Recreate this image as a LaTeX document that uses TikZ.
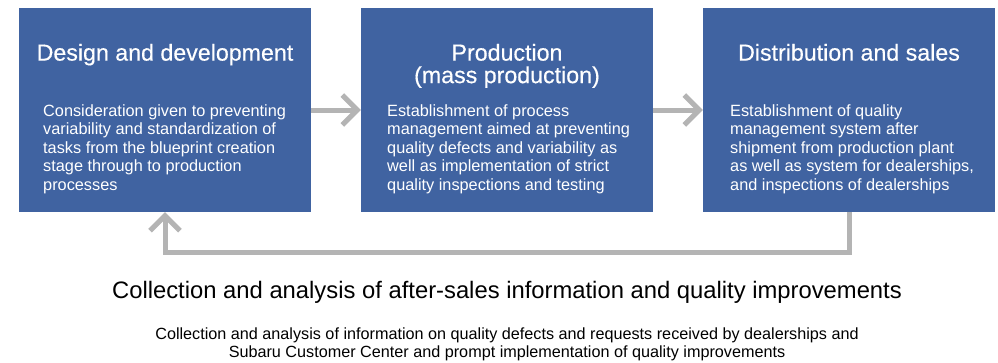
\documentclass[tikz,border=0pt]{standalone}
\usepackage{fontspec}
\setmainfont{Liberation Sans}
\newfontfamily\titlefont[FakeBold=0.4]{Liberation Sans}
\usetikzlibrary{arrows.meta}

\definecolor{stageblue}{RGB}{64,99,161}
\definecolor{loopgray}{RGB}{180,180,180}

\tikzset{
  stagebox/.style={fill=stageblue, draw=none, minimum width=292pt, minimum height=204pt, inner sep=0pt},
  stagetitle/.style={text=white, font=\titlefont\fontsize{23.2}{22.5}\selectfont, align=center, inner sep=0pt},
  stagetext/.style={text=white, font=\fontsize{16.3}{18.5}\selectfont, align=left, inner sep=0pt, anchor=north west},
  flow/.style={draw=loopgray, line width=5pt, -{Straight Barb[length=15pt,width=30pt]}},
}

\begin{document}
\begin{tikzpicture}[x=1pt,y=-1pt]
  \useasboundingbox (0,0) rectangle (998,362);

  % the three stages
  \node[stagebox] (design) at (165,110) {};
  \node[stagebox] (production) at (507,110) {};
  \node[stagebox] (distribution) at (849,110) {};

  % stage titles
  \node[stagetitle, anchor=north] (designtitle) at (165,43.6) {Design and development};
  \node[stagetitle, anchor=north] (productiontitle) at (507,43.6) {Production\\(mass production)};
  \node[stagetitle, anchor=north] (distributiontitle) at (849,43.6) {Distribution and sales};

  % stage descriptions
  \node[stagetext] (designtext) at (43,104.2) {Consideration given to preventing\\variability and standardization of\\tasks from the blueprint creation\\stage through to production\\processes};
  \node[stagetext] (productiontext) at (387,104.2) {Establishment of process\\management aimed at preventing\\quality defects and variability as\\well as implementation of strict\\quality inspections and testing};
  \node[stagetext] (distributiontext) at (730,104.2) {Establishment of quality\\management system after\\shipment from production plant\\as well as system for dealerships,\\and inspections of dealerships};

  % flow between stages
  \draw[flow] (design.east) -- (production.west);
  \draw[flow] (production.east) -- (distribution.west);

  % feedback loop
  \draw[flow] (distribution.south) -- ++(0,40) -| (design.south);

  % after-sales
  \node[anchor=base, font=\fontsize{23.8}{24}\selectfont, inner sep=0pt] (loophead) at (507,298.3) {Collection and analysis of after-sales information and quality improvements};
  \node[anchor=north, font=\fontsize{16.2}{18.3}\selectfont, align=center, inner sep=0pt] (looptext) at (507,327.2) {Collection and analysis of information on quality defects and requests received by dealerships and\\Subaru Customer Center and prompt implementation of quality improvements};
\end{tikzpicture}
\end{document}
